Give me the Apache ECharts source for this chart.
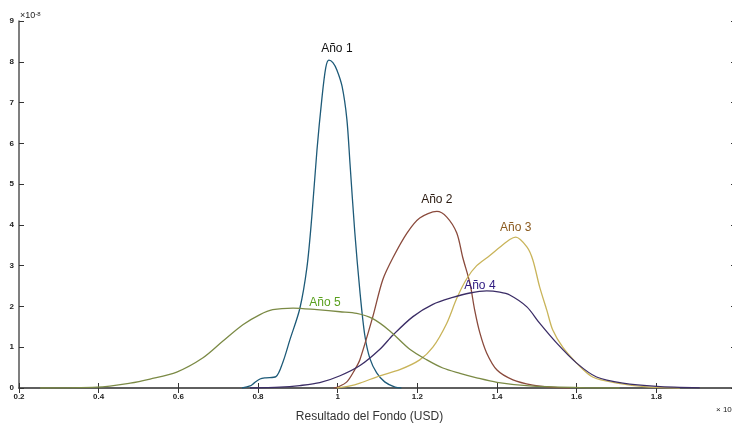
<!DOCTYPE html>
<html>
<head>
<meta charset="utf-8">
<script src="https://cdn.jsdelivr.net/npm/echarts@6/dist/echarts.min.js"></script>
<style>
  html, body { margin: 0; padding: 0; background: #fff; }
  #chart { width: 732px; height: 423px; }
</style>
</head>
<body>
<div id="chart"></div>
<script>
// density curves, x in units of 1e8 USD, y in units of 1e-8
const ano1 = [[0.76, 0], [0.78, 0.05], [0.79, 0.12], [0.805, 0.22], [0.82, 0.25], [0.845, 0.28], [0.862, 0.62],
  [0.88, 1.18], [0.905, 1.95], [0.923, 2.97], [0.935, 4.19], [0.948, 5.83], [0.96, 7.06], [0.97, 7.85],
  [0.978, 8.04], [0.988, 7.98], [0.998, 7.8], [1.011, 7.4], [1.023, 6.6], [1.031, 5.5], [1.043, 3.82],
  [1.056, 2.35], [1.068, 1.3], [1.081, 0.72], [1.098, 0.37], [1.118, 0.15], [1.144, 0.02], [1.16, 0]];
const ano2 = [[0.99, 0], [1.0, 0.02], [1.023, 0.15], [1.043, 0.45], [1.056, 0.7], [1.088, 1.74], [1.113, 2.65],
  [1.139, 3.2], [1.174, 3.8], [1.206, 4.17], [1.249, 4.33], [1.274, 4.19], [1.299, 3.8], [1.314, 3.2],
  [1.332, 2.57], [1.344, 1.91], [1.357, 1.35], [1.374, 0.86], [1.4, 0.44], [1.44, 0.2], [1.49, 0.07],
  [1.533, 0.02], [1.583, 0]];
const ano3 = [[0.998, 0], [1.031, 0.05], [1.056, 0.12], [1.106, 0.3], [1.156, 0.45], [1.206, 0.69], [1.239, 1.0],
  [1.274, 1.59], [1.299, 2.2], [1.324, 2.68], [1.349, 3.0], [1.382, 3.25], [1.407, 3.45], [1.432, 3.64],
  [1.447, 3.7], [1.475, 3.46], [1.49, 3.14], [1.507, 2.48], [1.525, 1.91], [1.54, 1.42], [1.565, 1.0],
  [1.6, 0.61], [1.64, 0.27], [1.701, 0.12], [1.783, 0.02], [1.859, 0]];
const ano4 = [[0.78, 0], [0.855, 0.02], [0.905, 0.06], [0.955, 0.13], [1.006, 0.3], [1.056, 0.55], [1.106, 0.95],
  [1.139, 1.3], [1.189, 1.75], [1.239, 2.05], [1.289, 2.22], [1.332, 2.33], [1.374, 2.38], [1.407, 2.35],
  [1.432, 2.28], [1.475, 1.99], [1.507, 1.59], [1.55, 1.1], [1.6, 0.61], [1.65, 0.27], [1.716, 0.12],
  [1.801, 0.04], [1.909, 0.005]];
const ano5 = [[0.253, 0], [0.396, 0.02], [0.479, 0.12], [0.529, 0.22], [0.596, 0.39], [0.662, 0.74], [0.712, 1.15],
  [0.762, 1.55], [0.805, 1.8], [0.837, 1.92], [0.888, 1.96], [0.948, 1.92], [1.006, 1.87], [1.048, 1.83],
  [1.088, 1.7], [1.131, 1.4], [1.181, 0.95], [1.224, 0.69], [1.264, 0.49], [1.307, 0.36], [1.349, 0.25],
  [1.4, 0.14], [1.482, 0.05], [1.608, 0.01], [1.708, 0]];

const names = ["Año 1", "Año 2", "Año 3", "Año 4", "Año 5"];
const labelAt = [[0.998, 8.33], [1.249, 4.63], [1.447, 3.92], [1.357, 2.52], [0.968, 2.1]];
const lineColors = ["#1d5a78", "#8a4a3c", "#c9b45a", "#3b2d66", "#7b8a45"];
const labelColors = ["#111", "#2a1a10", "#8b5a1e", "#2e1a80", "#5aa01e"];
const curves = [ano1, ano2, ano3, ano4, ano5];

const chart = echarts.init(document.getElementById("chart"));

const tickFont = { color: "#222", fontSize: 8, fontFamily: "Liberation Sans Narrow, Liberation Sans, sans-serif", fontWeight: "bold" };
const axisLine = { lineStyle: { color: "#555", width: 1.5 } };
const inTick = { inside: true, length: 5, lineStyle: { color: "#333", width: 1 } };

chart.setOption({
  backgroundColor: "#fff",
  animation: false,
  // the plot box runs a few pixels past the right edge of the picture
  grid: { left: 19, top: 21, width: 717, height: 367, outerBoundsMode: "none", containLabel: false },
  xAxis: [
    {
      type: "value", min: 0.2, max: 2.0, interval: 0.2,
      axisLine, axisTick: inTick, splitLine: { show: false },
      axisLabel: { ...tickFont, margin: 5, formatter: (v) => (v >= 1.99 ? "" : String(+v.toFixed(1))) },
      name: "Resultado del Fondo (USD)", nameLocation: "middle", nameGap: 23,
      nameTextStyle: { color: "#333", fontSize: 12, fontFamily: "Liberation Sans, sans-serif", padding: [0, 16, 0, 0] },
    },
    {
      type: "value", position: "top", min: 0.2, max: 2.0, interval: 0.2,
      axisLine, axisTick: inTick, axisLabel: { show: false }, splitLine: { show: false },
    },
  ],
  yAxis: [
    {
      type: "value", min: 0, max: 9, interval: 1,
      axisLine, axisTick: inTick, splitLine: { show: false },
      axisLabel: { ...tickFont, margin: 5 },
    },
    {
      type: "value", position: "right", min: 0, max: 9, interval: 1,
      axisLine, axisTick: inTick, axisLabel: { show: false }, splitLine: { show: false },
    },
  ],
  graphic: [
    {
      type: "text", left: 20, top: 11,
      style: {
        text: "×10{s|-8}", fill: "#222", fontSize: 9, fontFamily: "Liberation Sans, sans-serif",
        rich: { s: { fontSize: 6, verticalAlign: "top", fill: "#222", padding: [0, 0, 4, 0] } },
      },
    },
    {
      type: "text", left: 716, top: 406,
      style: { text: "× 10", fill: "#222", fontSize: 8, fontFamily: "Liberation Sans, sans-serif" },
    },
  ],
  series: curves.map((data, i) => ({
    name: names[i],
    type: "line",
    data,
    smooth: 0.3,
    showSymbol: false,
    lineStyle: { color: lineColors[i], width: 1.3 },
    markPoint: {
      symbol: "circle", symbolSize: 0,
      data: [{ coord: labelAt[i] }],
      label: {
        show: true, formatter: names[i], position: "inside",
        color: labelColors[i], fontSize: 12, fontFamily: "Liberation Sans, sans-serif",
      },
    },
  })),
});
</script>
</body>
</html>
